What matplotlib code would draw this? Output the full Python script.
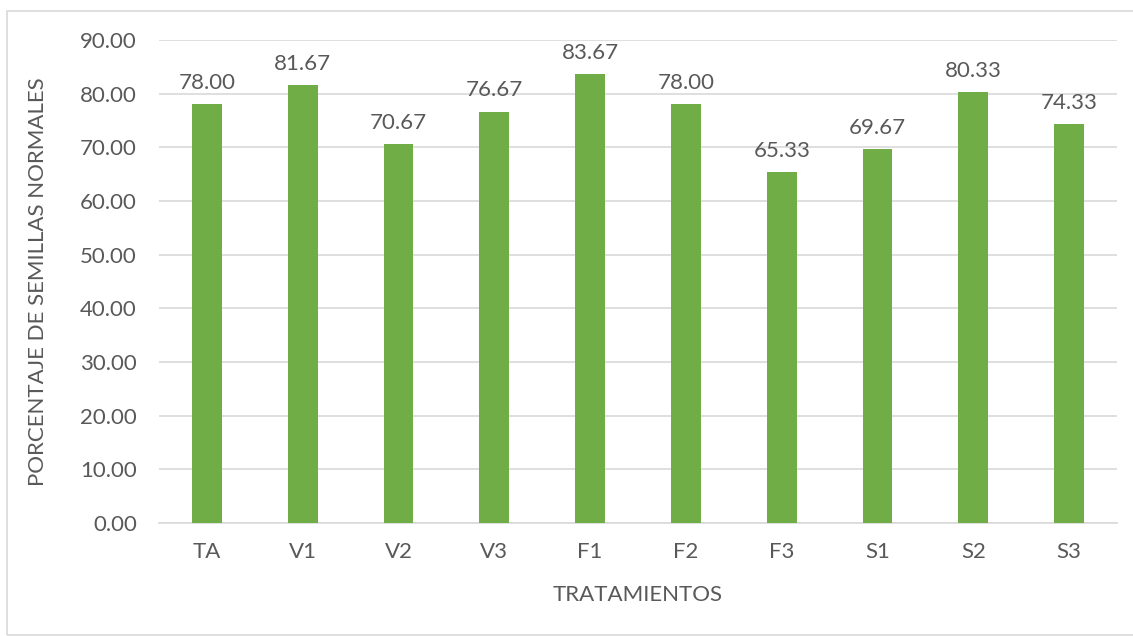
import matplotlib
matplotlib.use("Agg")
import matplotlib.pyplot as plt
from matplotlib.patches import Rectangle

categories = ["TA", "V1", "V2", "V3", "F1", "F2", "F3", "S1", "S2", "S3"]
values = [78.00, 81.67, 70.67, 76.67, 83.67, 78.00, 65.33, 69.67, 80.33, 74.33]
yticks = [0, 10, 20, 30, 40, 50, 60, 70, 80, 90]

plt.rcParams['font.family'] = ['Lato', 'DejaVu Sans']
txt = '#595959'
fs = 16
fig = plt.figure(figsize=(11.33, 6.36), dpi=100)
ax = fig.add_axes([159/1133, 1-523/636, (1117-159)/1133, (523-40)/636])

x = list(range(len(categories)))
bars = ax.bar(x, values, width=0.31, color='#70ad47', zorder=3)
for xi, v in zip(x, values):
    ax.annotate(f"{v:.2f}", (xi, v), xytext=(0, 8), textcoords='offset points',
                ha='center', va='bottom', fontsize=fs, color=txt)

ax.set_xlim(-0.5, len(categories) - 0.5)
ax.set_ylim(0, 90)
ax.set_yticks(yticks)
ax.set_yticklabels([f"{t:.2f}" for t in yticks], fontsize=fs, color=txt)
ax.set_xticks(x)
ax.set_xticklabels(categories, fontsize=fs, color=txt)
ax.tick_params(length=0)
ax.tick_params(axis='y', pad=16)
ax.tick_params(axis='x', pad=14)
ax.grid(axis='y', color='#d9d9d9', linewidth=1.2, zorder=0)
for s in ['top', 'right', 'left']:
    ax.spines[s].set_visible(False)
ax.spines['bottom'].set_color('#d9d9d9')
ax.spines['bottom'].set_linewidth(1.2)
ax.set_xlabel("TRATAMIENTOS", fontsize=fs, color=txt)
ax.set_ylabel("PORCENTAJE DE SEMILLAS NORMALES", fontsize=fs, color=txt)
ax.yaxis.set_label_coords(-0.116, 0.5)
ax.xaxis.set_label_coords(0.5, -0.128)

fig.patches.append(Rectangle((7/1133, 0.002), (1133-7)/1133 + 0.01, 1 - 11/636 - 0.002,
                             transform=fig.transFigure, fill=False,
                             edgecolor='#d9d9d9', linewidth=1.2))
fig.savefig("out.png", dpi=100)
